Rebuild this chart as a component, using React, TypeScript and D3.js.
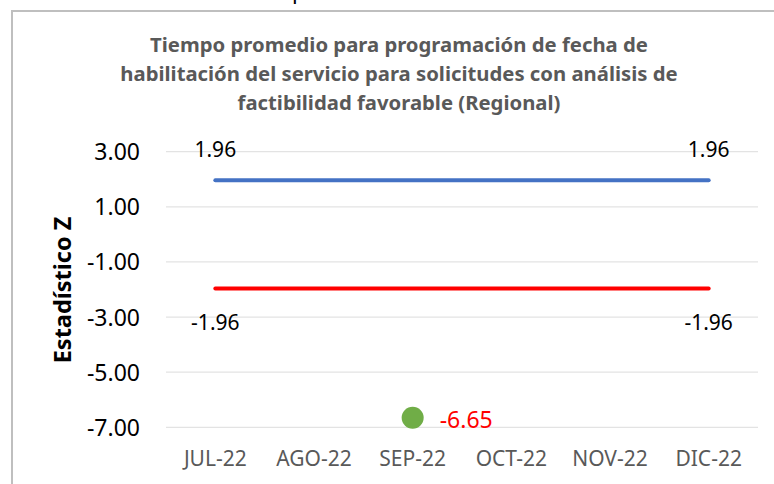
import * as d3 from "d3";
import { useEffect, useRef } from "react";

const months = ["JUL-22", "AGO-22", "SEP-22", "OCT-22", "NOV-22", "DIC-22"];
const upperLimit = [1.96, 1.96, 1.96, 1.96, 1.96, 1.96];
const lowerLimit = [-1.96, -1.96, -1.96, -1.96, -1.96, -1.96];
const zMonth = "SEP-22";
const zValue = -6.65;
const yTicks = [3, 1, -1, -3, -5, -7];
const titleLines = [
  "Tiempo promedio para programación de fecha de",
  "habilitación del servicio para solicitudes con análisis de",
  "factibilidad favorable (Regional)",
];

const FONT = "'Noto Sans', 'Open Sans', sans-serif";
const fmt = (v: number) => v.toFixed(2);

export default function App() {
  const ref = useRef<SVGSVGElement>(null);

  useEffect(() => {
    const width = 774;
    const height = 484;
    const svg = d3.select(ref.current);
    svg.selectAll("*").remove();
    svg.attr("width", width).attr("height", height);

    // x: month bands, y: Z value
    const x = d3.scaleBand().domain(months).range([166, 758]);
    const y = d3.scaleLinear().domain([-7, 3]).range([427.3, 151.7]);
    const cx = (m: string) => (x(m) as number) + x.bandwidth() / 2;

    svg.append("rect").attr("width", width).attr("height", height).attr("fill", "#fff");

    // cut-off letter from text above the chart
    svg.append("text")
      .attr("x", 292)
      .attr("y", -1)
      .attr("font-family", FONT)
      .attr("font-size", 22)
      .attr("fill", "#000")
      .text("p");

    // chart frame (only top and left visible)
    svg.append("path")
      .attr("d", `M12,${height} V11 H${width}`)
      .attr("fill", "none")
      .attr("stroke", "#BFBFBF")
      .attr("stroke-width", 2);

    // title
    svg.append("text")
      .attr("text-anchor", "middle")
      .attr("font-family", FONT)
      .attr("font-weight", "bold")
      .attr("font-size", 20.3)
      .attr("fill", "#595959")
      .selectAll("tspan")
      .data(titleLines)
      .join("tspan")
      .attr("x", 399)
      .attr("y", (_, i) => 52 + i * 29)
      .text(d => d);

    // gridlines
    svg.append("g")
      .selectAll("line")
      .data(yTicks)
      .join("line")
      .attr("x1", 166)
      .attr("x2", 758)
      .attr("y1", d => y(d))
      .attr("y2", d => y(d))
      .attr("stroke", "#E3E3E3")
      .attr("stroke-width", 1.3);

    // y axis labels
    svg.append("g")
      .selectAll("text")
      .data(yTicks)
      .join("text")
      .attr("x", 140)
      .attr("y", d => y(d) + 8.5)
      .attr("text-anchor", "end")
      .attr("font-family", FONT)
      .attr("font-size", 23)
      .attr("fill", "#000")
      .text(d => fmt(d));

    // y axis title
    svg.append("text")
      .attr("transform", "translate(71,290) rotate(-90)")
      .attr("text-anchor", "middle")
      .attr("font-family", FONT)
      .attr("font-weight", "bold")
      .attr("font-size", 23.5)
      .attr("fill", "#000")
      .text("Estadístico Z");

    // x axis labels
    svg.append("g")
      .selectAll("text")
      .data(months)
      .join("text")
      .attr("x", d => cx(d))
      .attr("y", 466)
      .attr("text-anchor", "middle")
      .attr("font-family", FONT)
      .attr("font-size", 21)
      .attr("fill", "#595959")
      .text(d => d);

    const line = d3.line<number>()
      .x((_, i) => cx(months[i]))
      .y(d => y(d));

    const limits = [
      { data: upperLimit, color: "#4472C4", dy: -23.5 },
      { data: lowerLimit, color: "#FF0000", dy: 41.5 },
    ];

    limits.forEach(s => {
      svg.append("path")
        .datum(s.data)
        .attr("fill", "none")
        .attr("stroke", s.color)
        .attr("stroke-width", 4)
        .attr("stroke-linecap", "round")
        .attr("d", line);

      // labels at first and last point
      const ends = [0, s.data.length - 1];
      svg.append("g")
        .selectAll("text")
        .data(ends)
        .join("text")
        .attr("x", i => cx(months[i]))
        .attr("y", i => y(s.data[i]) + s.dy)
        .attr("text-anchor", "middle")
        .attr("font-family", FONT)
        .attr("font-size", 21)
        .attr("fill", "#000")
        .text(i => fmt(s.data[i]));
    });

    // Z statistic point
    svg.append("circle")
      .attr("cx", cx(zMonth))
      .attr("cy", y(zValue))
      .attr("r", 11)
      .attr("fill", "#70AD47");

    svg.append("text")
      .attr("x", cx(zMonth) + 27)
      .attr("y", y(zValue) + 10)
      .attr("font-family", FONT)
      .attr("font-size", 23)
      .attr("fill", "#FF0000")
      .text(fmt(zValue));
  }, []);

  return <svg ref={ref} style={{ position: "absolute", left: 0, top: 0 }} />;
}
